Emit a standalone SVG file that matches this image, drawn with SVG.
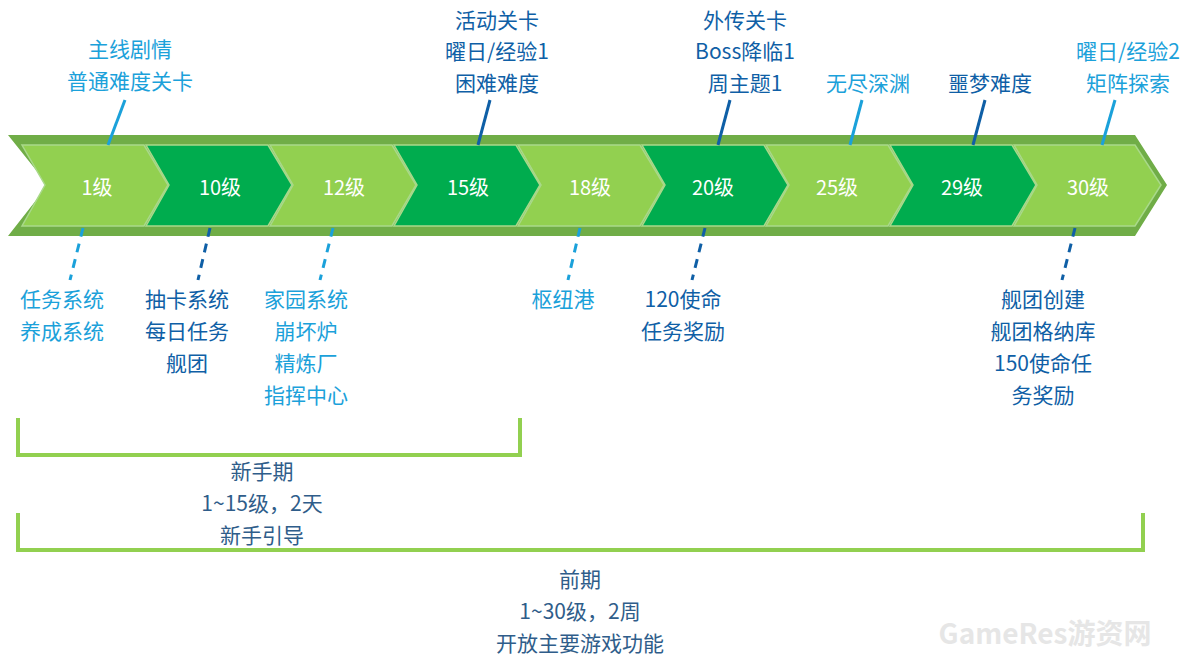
<svg xmlns="http://www.w3.org/2000/svg" width="1200" height="665" viewBox="0 0 1200 665">
<style>
text{font-family:"Noto Sans CJK SC","Noto Sans",sans-serif;font-size:21px;text-anchor:middle;dominant-baseline:central}
.lv{fill:#fff;font-size:20px}
.lb{fill:#1BA1DA}.db{fill:#0F5FA6}.gb{fill:#2F5D8A}
.ls{stroke:#1BA1DA;stroke-width:3}.ds{stroke:#0F5FA6;stroke-width:3}
.dash{stroke-dasharray:9,7}
.lc{fill:#92D050;stroke:#A9D98A;stroke-width:1.5}.dc{fill:#00AC4E;stroke:#A9D98A;stroke-width:1.5}
.br{fill:none;stroke:#92D050;stroke-width:4}
</style>
<rect width="1200" height="665" fill="#fff"/>
<polygon points="8,135 1135,135 1167,185 1135,236 8,236 48,185" fill="#70AD47"/>
<g id="c1"><polygon class="lc" points="22,145 144,145 168,185 144,226 22,226 45,185"/><text class="lv" x="97" y="186">1级</text></g>
<g id="c10"><polygon class="dc" points="146,145 268,145 292,185 268,226 146,226 169,185"/><text class="lv" x="220" y="186">10级</text></g>
<g id="c12"><polygon class="lc" points="270,145 392,145 416,185 392,226 270,226 293,185"/><text class="lv" x="344" y="186">12级</text></g>
<g id="c15"><polygon class="dc" points="394,145 516,145 540,185 516,226 394,226 417,185"/><text class="lv" x="468" y="186">15级</text></g>
<g id="c18"><polygon class="lc" points="518,145 640,145 664,185 640,226 518,226 541,185"/><text class="lv" x="590" y="186">18级</text></g>
<g id="c20"><polygon class="dc" points="642,145 764,145 788,185 764,226 642,226 665,185"/><text class="lv" x="713" y="186">20级</text></g>
<g id="c25"><polygon class="lc" points="766,145 888,145 912,185 888,226 766,226 789,185"/><text class="lv" x="837" y="186">25级</text></g>
<g id="c29"><polygon class="dc" points="890,145 1012,145 1036,185 1012,226 890,226 913,185"/><text class="lv" x="962" y="186">29级</text></g>
<g id="c30"><polygon class="lc" points="1014,145 1135,145 1161,185 1135,226 1014,226 1037,185"/><text class="lv" x="1088" y="186">30级</text></g>
<g id="connectors">
<line class="ls" x1="125" y1="100" x2="108" y2="145"/>
<line class="ds" x1="490" y1="100" x2="478" y2="145"/>
<line class="ds" x1="730" y1="100" x2="718" y2="145"/>
<line class="ls" x1="862" y1="100" x2="850" y2="145"/>
<line class="ds" x1="985" y1="100" x2="973" y2="145"/>
<line class="ls" x1="1115" y1="100" x2="1102" y2="145"/>
<line class="ls dash" x1="83" y1="228" x2="70" y2="280"/>
<line class="ds dash" x1="210" y1="228" x2="198" y2="280"/>
<line class="ls dash" x1="333" y1="228" x2="320" y2="280"/>
<line class="ls dash" x1="580" y1="228" x2="568" y2="280"/>
<line class="ds dash" x1="705" y1="228" x2="692" y2="280"/>
<line class="ds dash" x1="1075" y1="228" x2="1062" y2="280"/>
</g>
<g id="top-labels">
<text class="lb" x="130" y="48">主线剧情</text><text class="lb" x="130" y="80">普通难度关卡</text>
<text class="db" x="497" y="19">活动关卡</text><text class="db" x="497" y="50">曜日/经验1</text><text class="db" x="497" y="82">困难难度</text>
<text class="db" x="745" y="19">外传关卡</text><text class="db" x="745" y="50">Boss降临1</text><text class="db" x="745" y="82">周主题1</text>
<text class="lb" x="868" y="82">无尽深渊</text>
<text class="db" x="990" y="82">噩梦难度</text>
<text class="lb" x="1128" y="50">曜日/经验2</text><text class="lb" x="1128" y="82">矩阵探索</text>
</g>
<g id="bottom-labels">
<text class="lb" x="62" y="298">任务系统</text><text class="lb" x="62" y="330">养成系统</text>
<text class="db" x="187" y="298">抽卡系统</text><text class="db" x="187" y="330">每日任务</text><text class="db" x="187" y="362">舰团</text>
<text class="lb" x="306" y="298">家园系统</text><text class="lb" x="306" y="330">崩坏炉</text><text class="lb" x="306" y="362">精炼厂</text><text class="lb" x="306" y="394">指挥中心</text>
<text class="lb" x="563" y="298">枢纽港</text>
<text class="db" x="683" y="298">120使命</text><text class="db" x="683" y="330">任务奖励</text>
<text class="db" x="1043" y="298">舰团创建</text><text class="db" x="1043" y="330">舰团格纳库</text><text class="db" x="1043" y="362">150使命任</text><text class="db" x="1043" y="394">务奖励</text>
</g>
<g id="brackets">
<polyline class="br" points="18,418 18,455 520,455 520,418"/>
<polyline class="br" points="18,513 18,550 1143,550 1143,513"/>
<text class="gb" x="262" y="470">新手期</text><text class="gb" x="262" y="502">1~15级，2天</text><text class="gb" x="262" y="534">新手引导</text>
<text class="gb" x="580" y="578">前期</text><text class="gb" x="580" y="610">1~30级，2周</text><text class="gb" x="580" y="642">开放主要游戏功能</text>
</g>
<text x="1045" y="632" style="font-size:28px;fill:#e6e6e6;font-weight:bold">GameRes游资网</text>
</svg>
